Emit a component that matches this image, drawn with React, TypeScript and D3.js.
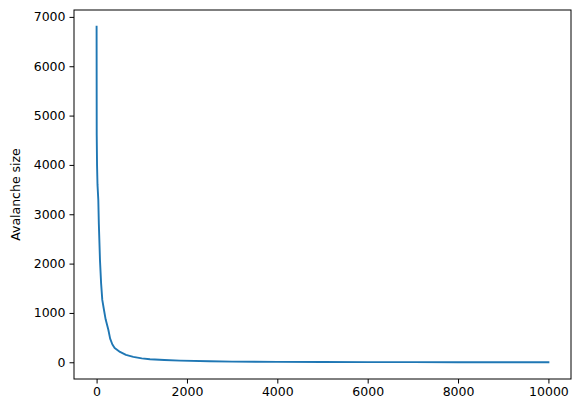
import * as d3 from "d3";
import React, {useRef, useEffect} from "react";

// rank of the avalanche (sorted largest first) and its size
const ranks = [0, 3, 10, 20, 38, 50, 75, 100, 126, 160, 200, 260, 300, 350, 400, 518, 650, 812, 1000, 1182, 1500, 1846, 2500, 3000, 4000, 5000, 6000, 7000, 8000, 9000, 10000];
const sizes = [6800, 4600, 4000, 3600, 3290, 2800, 2070, 1600, 1264, 1080, 870, 660, 480, 360, 290, 210, 150, 110, 80, 62, 45, 33, 20, 14, 9, 6, 4, 3, 2, 1, 1];

const xTicks = [0, 2000, 4000, 6000, 8000, 10000];
const yTicks = [0, 1000, 2000, 3000, 4000, 5000, 6000, 7000];

const W = 580;
const H = 413;
const margin = {left: 74, right: 9, top: 10, bottom: 34};
const FONT = "DejaVu Sans, sans-serif";

function App() {

    const ref = useRef<SVGSVGElement>(null);

    useEffect(() => {

        const svg = d3.select(ref.current);
        svg.selectAll("*").remove();

        const x0 = margin.left, x1 = W - margin.right;
        const y0 = H - margin.bottom, y1 = margin.top;

        // matplotlib style 5% padding
        const xPad = (d3.max(ranks)! - d3.min(ranks)!) * 0.05;
        const yPad = (d3.max(sizes)! - d3.min(sizes)!) * 0.05;

        const x = d3.scaleLinear()
            .domain([d3.min(ranks)! - xPad, d3.max(ranks)! + xPad])
            .range([x0, x1]);

        const y = d3.scaleLinear()
            .domain([d3.min(sizes)! - yPad, d3.max(sizes)! + yPad])
            .range([y0, y1]);

        const data = ranks.map((r, i) => [r, sizes[i]] as [number, number]);

        const line = d3.line<[number, number]>()
            .x(d => x(d[0]))
            .y(d => y(d[1]));

        svg.append("path")
            .datum(data)
            .attr("d", line)
            .attr("fill", "none")
            .attr("stroke", "#1f77b4")
            .attr("stroke-width", 1.9)
            .attr("stroke-linejoin", "round")
            .attr("stroke-linecap", "square");

        const xAxis = svg.append("g")
            .attr("transform", `translate(0, ${y0})`)
            .call(d3.axisBottom(x).tickValues(xTicks).tickSize(4.5).tickPadding(4).tickFormat(d3.format("d")));

        const yAxis = svg.append("g")
            .attr("transform", `translate(${x0}, 0)`)
            .call(d3.axisLeft(y).tickValues(yTicks).tickSize(4.5).tickPadding(4).tickFormat(d3.format("d")));

        [xAxis, yAxis].forEach(g => {
            g.select(".domain").remove();
            g.selectAll("line").attr("stroke", "#000").attr("stroke-width", 1);
            g.selectAll("text")
                .attr("fill", "#000")
                .style("font-family", FONT)
                .style("font-size", "12.5px");
        });

        // frame
        svg.append("rect")
            .attr("x", x0)
            .attr("y", y1)
            .attr("width", x1 - x0)
            .attr("height", y0 - y1)
            .attr("fill", "none")
            .attr("stroke", "#000")
            .attr("stroke-width", 1);

        svg.append("text")
            .text("Avalanche size")
            .attr("transform", `translate(19.5, ${(y0 + y1) / 2}) rotate(-90)`)
            .attr("text-anchor", "middle")
            .style("font-family", FONT)
            .style("font-size", "12.5px")
            .attr("fill", "#000");

    }, []);

    return (
        <svg ref={ref} width={W} height={H}
             style={{position: "absolute", left: 0, top: 0, background: "#fff"}}/>
    );
}

export default App;
